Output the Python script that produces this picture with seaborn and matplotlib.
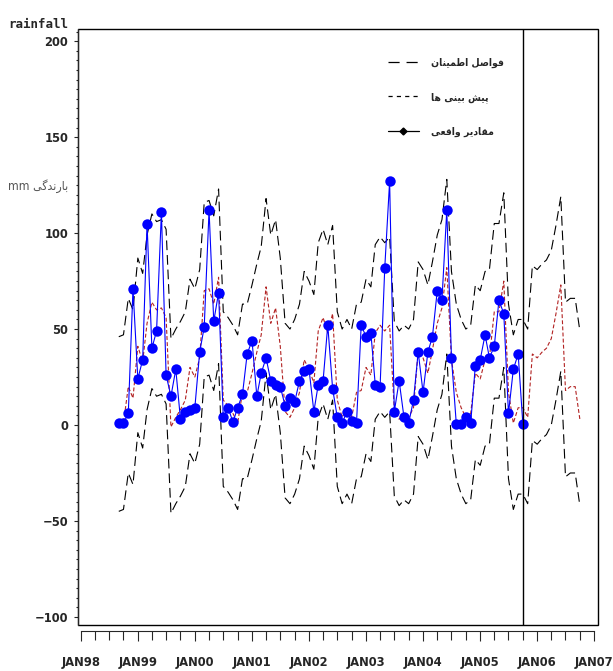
import seaborn as sns
import matplotlib
import matplotlib.pyplot as plt
import matplotlib.dates as mdates
from matplotlib.lines import Line2D
from matplotlib.patches import Rectangle
from matplotlib.ticker import MultipleLocator, FuncFormatter
import pandas as pd

matplotlib.use('Agg')

# monthly series
actual_start, actual_end = "1998-09-01", "2005-10-01"
forecast_start, forecast_end = "1998-09-01", "2006-10-01"
split_date = "2005-10-01"

actual = [1, 1, 6, 71, 24, 34, 105, 40, 49, 111,
          26, 15, 29, 3, 7, 8, 9, 38, 51, 112,
          54, 69, 4, 9, 1.5, 9, 16, 37, 44, 15,
          27, 35, 23, 21, 20, 10, 14, 12, 23, 28,
          29, 7, 21, 23, 52, 19, 4, 1, 7, 2,
          1, 52, 46, 48, 21, 20, 82, 127, 7, 23,
          4, 1, 13, 38, 17, 38, 46, 70, 65, 112,
          35, 0.5, 0.5, 4, 1, 31, 34, 47, 35, 41,
          65, 58, 6, 29, 37, 0.5]

forecast = [0, 1, 20, 14, 41, 33, 53, 64, 60, 61,
            56, -1, 4, 8, 13, 30, 25, 35, 70, 71,
            63, 77, 13, 10, 6, 1, 17, 17, 27, 38,
            47, 72, 53, 61, 41, 7, 4, 9, 17, 34,
            29, 22, 49, 56, 48, 58, 13, 4, 9, 4,
            17, 18, 30, 26, 48, 52, 49, 52, 8, 3,
            6, 4, 9, 39, 35, 27, 39, 53, 61, 82,
            34, 17, 9, 4, 6, 27, 24, 34, 35, 59,
            59, 75, 17, 1, 9, 9, 4, 37, 35, 38,
            40, 45, 58, 73, 18, 20, 20, 3]

upper = [46, 47, 66, 60, 87, 79, 99, 110, 106, 107,
         102, 45, 50, 54, 59, 76, 71, 81, 116, 117,
         109, 123, 59, 56, 52, 47, 63, 63, 73, 84,
         93, 118, 99, 107, 87, 53, 50, 55, 63, 80,
         75, 68, 95, 102, 94, 104, 59, 50, 55, 50,
         63, 64, 76, 72, 94, 98, 95, 98, 54, 49,
         52, 50, 55, 85, 81, 73, 85, 99, 107, 128,
         80, 63, 55, 50, 52, 73, 70, 80, 81, 105,
         105, 121, 63, 47, 55, 55, 50, 83, 81, 84,
         86, 91, 104, 119, 64, 66, 66, 49]

lower = [-45, -44, -25, -31, -4, -12, 8, 19, 15, 16,
         11, -46, -41, -37, -32, -15, -20, -10, 25, 26,
         18, 32, -32, -35, -39, -44, -28, -28, -18, -7,
         2, 27, 8, 16, -4, -38, -41, -36, -28, -11,
         -16, -23, 4, 11, 3, 13, -32, -41, -36, -41,
         -28, -27, -15, -19, 3, 7, 4, 7, -37, -42,
         -39, -41, -36, -6, -10, -18, -6, 8, 16, 37,
         -11, -28, -36, -41, -39, -18, -21, -11, -10, 14,
         14, 30, -28, -44, -36, -36, -41, -8, -10, -7,
         -5, 0, 13, 28, -27, -25, -25, -42]

# Persian labels (pre-shaped presentation forms, visual order)
label_ci = "\uFEE5\uFE8E\uFEE8\uFEF4\uFEE4\uFEC3\uFE8D \uFEDE\uFEBB\uFE8D\uFEEE\uFED3"
label_fc = "\uFE8E\uFEEB \uFEF0\uFEE8\uFEF4\uFE91 \uFEB6\uFEF4\uFB58"
label_act = "\uFEF0\uFECC\uFED7\uFE8D\uFEED \uFEAE\uFEF3\uFEA9\uFE8E\uFED8\uFEE3"
ylabel_fa = "mm \uFEF0\uFB94\uFEAA\uFEE7\uFEAD\uFE8E\uFE91"

df_act = pd.DataFrame({"date": pd.date_range(actual_start, actual_end, freq="MS"),
                       "value": actual})
df_fc = pd.DataFrame({"date": pd.date_range(forecast_start, forecast_end, freq="MS"),
                      "forecast": forecast, "upper": upper, "lower": lower})

sns.set_style("ticks")
plt.rcParams['font.family'] = ['DejaVu Sans']
plt.rcParams['font.weight'] = 'bold'
plt.rcParams['font.stretch'] = 'condensed'
plt.rcParams['lines.scale_dashes'] = False

fig = plt.figure(figsize=(6.13, 6.71), dpi=100)
ax = fig.add_axes([0.127, 0.0686, 0.8485, 0.888])

ci_dash = (0, (7, 3.5))
fc_dash = (0, (2.8, 1.6))

sns.lineplot(data=df_fc, x="date", y="upper", ax=ax, color="black", linewidth=0.8, linestyle=ci_dash)
sns.lineplot(data=df_fc, x="date", y="lower", ax=ax, color="black", linewidth=0.8, linestyle=ci_dash)
sns.lineplot(data=df_fc, x="date", y="forecast", ax=ax, color="#b22222", linewidth=0.8, linestyle=fc_dash)
sns.lineplot(data=df_act, x="date", y="value", ax=ax, color="#0000ff", linewidth=0.8,
             marker="o", markersize=7.5, markeredgewidth=0, markerfacecolor="#0000ff")

ax.axvline(pd.Timestamp(split_date), color="black", linewidth=1)

ax.set_xlim(pd.Timestamp("1997-12-13"), pd.Timestamp("2007-01-25"))
ax.set_ylim(-104.2, 206.3)
ax.set_xlabel("")
ax.set_ylabel("")

ax.yaxis.set_major_locator(MultipleLocator(50))
ax.yaxis.set_minor_locator(MultipleLocator(5))
ax.xaxis.set_major_locator(mdates.YearLocator())
ax.xaxis.set_minor_locator(mdates.MonthLocator(bymonth=[4, 7, 10]))
ax.xaxis.set_major_formatter(FuncFormatter(lambda v, pos: mdates.num2date(v).strftime("%b%y").upper()))

ax.tick_params(axis="both", which="major", labelsize=9.3)
ax.tick_params(axis="y", which="major", direction="out", length=3, width=0.8, pad=4)
ax.tick_params(axis="y", which="minor", direction="out", length=1.6, width=0.8)
ax.tick_params(axis="x", which="major", direction="out", length=7.5, width=0.8, pad=11)
ax.tick_params(axis="x", which="minor", direction="out", length=6.5, width=0.8)

ax.spines["top"].set_visible(False)
ax.spines["right"].set_visible(False)
ax.spines["bottom"].set_position(("outward", 4))
ax.spines["bottom"].set_bounds(mdates.date2num(pd.Timestamp("1998-01-01")),
                               mdates.date2num(pd.Timestamp("2007-01-01")))
ax.spines["left"].set_linewidth(0.8)
ax.spines["bottom"].set_linewidth(0.8)
ax.add_patch(Rectangle((0, 0), 1, 1, transform=ax.transAxes, fill=False,
                       edgecolor="black", linewidth=1, clip_on=False))

handles = [
    Line2D([], [], color="black", linewidth=0.9, linestyle=(0, (8, 5))),
    Line2D([], [], color="black", linewidth=0.9, linestyle=(0, (3, 3))),
    Line2D([], [], color="black", linewidth=0.9, marker="D", markersize=3.5),
]
leg = ax.legend(handles, [label_ci, label_fc, label_act], loc="upper left",
                bbox_to_anchor=(0.578, 0.968), frameon=False,
                prop=dict(family="DejaVu Sans", weight="bold", size=7.5),
                handlelength=3.0, handletextpad=1.1, labelspacing=2.3)

fig.text(8 / 613, 1 - 24 / 671, "rainfall", family="DejaVu Sans Mono", weight="bold",
         size=9, va="center", ha="left")
fig.text(8 / 613, 1 - 186 / 671, ylabel_fa, size=8.8, weight="normal", color="#555555",
         va="center", ha="left")

fig.savefig("out.png", dpi=100)
